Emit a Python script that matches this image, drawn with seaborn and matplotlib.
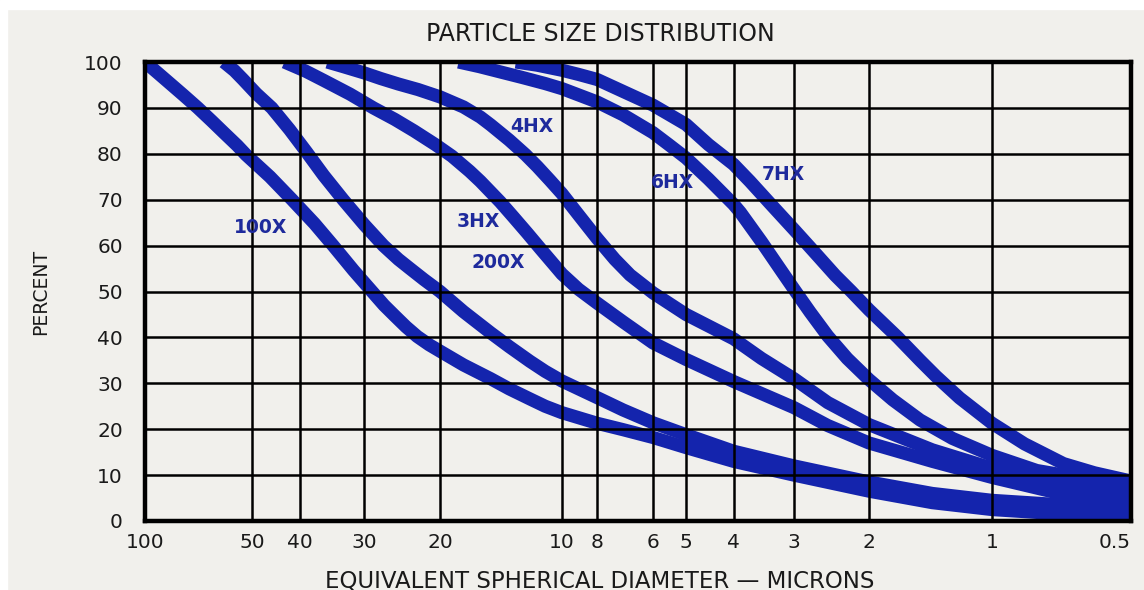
import numpy as np
import pandas as pd
import matplotlib
matplotlib.use("Agg")
import matplotlib.pyplot as plt
import seaborn as sns
from matplotlib.patches import Rectangle
from matplotlib.ticker import NullLocator

# ---- data ----
grades = ["100X", "200X", "3HX", "4HX", "6HX", "7HX"]

d_100x = [100, 92, 85, 78, 71, 65, 60, 55, 52, 46, 41.5, 37.5, 34.5, 31.5, 29, 27, 25.5, 24,
          22.6, 21.2, 20, 17.5, 15, 13.5, 12, 11, 10, 8, 7, 6, 5, 4, 3, 2, 1.4, 1, 0.7, 0.5]
p_100x = [100, 97.6, 95.3, 92.8, 90, 87.2, 84.6, 81.8, 79.8, 75, 70, 64.8, 60, 54.6, 50.3, 47, 44.7, 42.3,
          40.2, 38.4, 37, 34, 31, 28.8, 26.6, 25, 23.6, 21.3, 19.9, 18.2, 16, 13, 10, 6.5, 4, 2.5, 1.5, 1.2]

d_200x = [60, 56, 53, 49, 45.6, 42, 38.8, 36, 33, 30, 27.1, 25, 23.5, 21.8, 20, 17.5, 15,
          13.5, 12, 11, 10, 8, 7, 6, 5, 4, 3, 2, 1.4, 1, 0.7, 0.5]
p_200x = [100, 98.1, 96.2, 93.1, 90, 85.3, 80.3, 75.3, 70, 64.5, 60, 57, 55, 52.6, 50, 45.6, 41,
          38, 34.8, 32.6, 30.5, 26.9, 24.2, 21.4, 18.8, 15.2, 12, 8.5, 6, 4.5, 3.5, 2.8]

d_3hx = [43, 39, 36, 32, 28.6, 25.5, 23, 20.5, 18.7, 16.9, 15.9, 14.2, 13.2, 12.2, 11.3, 10.5,
         10, 9, 8, 7, 6, 5, 4, 3, 2.5, 2, 1.4, 1, 0.7, 0.5]
p_3hx = [100, 98, 96, 93, 90, 87.5, 85, 82, 79.5, 76.2, 74, 69.5, 66.3, 62.8, 59.3, 56,
         53.8, 50.5, 47.5, 43.4, 38.8, 35.2, 30.4, 24.7, 20.8, 17, 13, 9.5, 5.8, 4.3]

d_4hx = [35.4, 33, 30, 27.5, 25, 22.5, 20, 17.5, 15.9, 15, 13.5, 12.3, 11.5, 10.7, 10, 9, 8,
         7.3, 6.75, 6, 5, 4, 3.5, 3, 2.5, 2, 1.4, 1, 0.7, 0.5]
p_4hx = [100, 99, 97.6, 96.4, 95.2, 94, 92.4, 90.2, 88, 86.3, 83, 79.8, 77.2, 74.2, 71.3, 66.7, 61.6,
         57, 53.6, 49.7, 45, 39.7, 35.4, 31, 25.8, 21, 15.5, 11.5, 7.8, 5.8]

d_6hx = [18, 16, 14, 12.5, 11, 10, 8, 7, 6, 5.5, 5, 4.5, 4, 3.87, 3.5, 3.2, 3, 2.75, 2.5,
         2.25, 2, 1.75, 1.5, 1.25, 1, 0.8, 0.7, 0.5]
p_6hx = [100, 99, 97.7, 96.6, 95.3, 94.2, 91.3, 88.5, 84.6, 82, 79.1, 74.5, 69, 67.2, 60.8,
         54.8, 50.5, 45.5, 40.3, 35.4, 30.8, 26.4, 22, 18, 14.3, 11, 10, 7.3]

d_7hx = [13, 11.5, 10, 9, 8, 7, 6, 5.5, 5, 4.5, 4, 3.7, 3.37, 3, 2.7, 2.4, 2.2, 2, 1.7,
         1.5, 1.37, 1.2, 1, 0.85, 0.7, 0.6, 0.5]
p_7hx = [100, 99.3, 98.2, 97.3, 96.2, 93.6, 90.6, 88.6, 86.4, 82, 77.7, 74, 69.3, 63.5,
         58.8, 53.5, 50, 46, 40, 35, 31.5, 26.8, 21.3, 16.8, 12.5, 10.5, 8.7]

# where the grade names sit (diameter, percent)
label_d = [48, 14.4, 16.1, 11.9, 5.4, 3.16]
label_p = [64, 56.3, 65.2, 86, 73.7, 75.4]

# diameter axis ticks
tick_values = [100, 50, 40, 30, 20, 10, 8, 6, 5, 4, 3, 2, 1, 0.5]
tick_labels = ["100", "50", "40", "30", "20", "10", "8", "6", "5", "4", "3", "2", "1", "0.5"]
# the printed grid is only roughly logarithmic: fraction of the axis width for each tick
tick_frac = [0, 0.1085, 0.1572, 0.2226, 0.2992, 0.4229, 0.4584, 0.5152, 0.5487,
             0.5969, 0.6582, 0.7343, 0.8590, 1.0]

diams = [d_100x, d_200x, d_3hx, d_4hx, d_6hx, d_7hx]
pcts = [p_100x, p_200x, p_3hx, p_4hx, p_6hx, p_7hx]

rows = []
for g, d, p in zip(grades, diams, pcts):
    for dd, pp in zip(d, p):
        rows.append((g, dd, pp))
df = pd.DataFrame(rows, columns=["grade", "diameter", "percent"])

# ---- scale that follows the printed grid ----
log_asc = np.log10(np.array(tick_values[::-1], float))
u_asc = 1.0 - np.array(tick_frac[::-1], float)


def fwd(x):
    x = np.clip(np.asarray(x, float), 1e-6, None)
    return np.interp(np.log10(x), log_asc, u_asc)


def inv(u):
    u = np.asarray(u, float)
    return 10 ** np.interp(u, u_asc, log_asc)


# ---- styling ----
bg = "#f1f0ec"
line_blue = "#1424ad"
text_blue = "#1e2a9c"
ink = "#1a1a1a"

sns.set_theme(style="white")
plt.rcParams["font.family"] = ["DejaVu Sans"]

fig = plt.figure(figsize=(11.44, 5.90), dpi=100, facecolor=bg)
fig.patches.append(Rectangle((0, 1 - 9 / 590), 1, 9 / 590, transform=fig.transFigure,
                             color="white", zorder=0))
fig.patches.append(Rectangle((0, 0), 7 / 1144, 1, transform=fig.transFigure,
                             color="white", zorder=0))

ax = fig.add_axes([145 / 1144, 69 / 590, 986 / 1144, 459 / 590])
ax.set_facecolor(bg)
ax.set_xscale("function", functions=(fwd, inv))

sns.lineplot(data=df, x="diameter", y="percent", hue="grade", hue_order=grades,
             palette={g: line_blue for g in grades}, linewidth=9.5, estimator=None,
             sort=False, legend=False, ax=ax,
             solid_joinstyle="round", solid_capstyle="butt")

for name, d, p in zip(grades, label_d, label_p):
    ax.text(d, p, name, color=text_blue, fontsize=13.5, fontweight="bold",
            ha="center", va="center", zorder=4)

ax.set_xlim(100, 0.5)
ax.set_ylim(0, 100)
ax.set_xticks(tick_values)
ax.set_xticklabels(tick_labels)
ax.xaxis.set_minor_locator(NullLocator())
ax.set_yticks(range(0, 101, 10))
ax.get_xticklabels()[-1].set_horizontalalignment("right")

ax.set_axisbelow(False)
ax.grid(True, color="black", linewidth=1.8)
for s in ax.spines.values():
    s.set_color("black")
    s.set_linewidth(3.2)
    s.set_zorder(5)

ax.tick_params(axis="both", length=0, labelsize=14.5, colors=ink)
ax.tick_params(axis="x", pad=9)
ax.tick_params(axis="y", pad=16)

ax.set_title("PARTICLE SIZE DISTRIBUTION", fontsize=17, color=ink, x=0.4615, pad=15)
ax.set_xlabel("EQUIVALENT SPHERICAL DIAMETER \u2014 MICRONS", fontsize=16.5, color=ink)
ax.xaxis.set_label_coords(0.4615, -0.105)
ax.set_ylabel("PERCENT", fontsize=13.5, color=ink)
ax.yaxis.set_label_coords(-0.096, 0.5)

fig.savefig("out.png", dpi=100, facecolor=fig.get_facecolor())
